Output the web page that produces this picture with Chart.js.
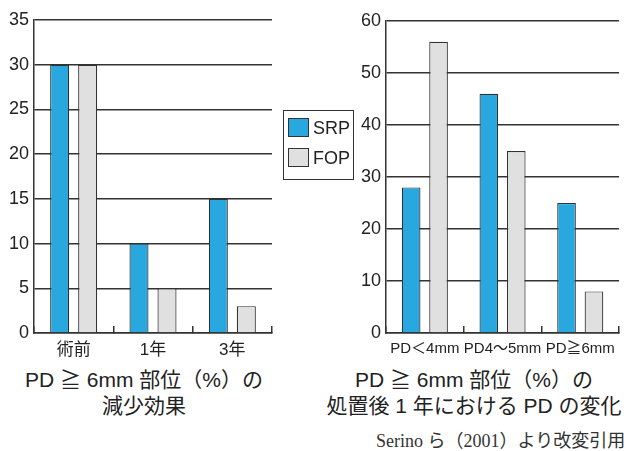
<!DOCTYPE html>
<html>
<head>
<meta charset="utf-8">
<script src="https://cdn.jsdelivr.net/npm/chart.js@4.4.1/dist/chart.umd.min.js"></script>
<style>
  html, body { margin: 0; padding: 0; background: #fff; }
  body { width: 630px; height: 451px; position: relative; overflow: hidden;
         font-family: "Liberation Sans", "Noto Sans CJK JP", sans-serif; color: #222; }
  canvas { position: absolute; top: 0; }
  #left { left: 0; }
  #right { left: 340px; }
  .title { position: absolute; text-align: center; font-size: 21px; line-height: 26px; white-space: nowrap; top: 367px; }
  #t1 { left: 0; width: 288px; }
  #t2 { left: 304px; width: 340px; }
  #legend { position: absolute; left: 283px; top: 110px; width: 69px; height: 68px; border: 1.3px solid #333; }
  .item { position: absolute; left: 4px; height: 20px; font-size: 18px; line-height: 20px; }
  .sw { position: absolute; left: 0; top: 0; width: 19px; height: 17px; border: 1.2px solid #333; }
  .item span { position: absolute; left: 25px; top: 0; }
  #src { position: absolute; left: 376px; top: 430px; font-family: "Liberation Serif", "Noto Sans CJK JP", serif;
         font-size: 18px; line-height: 22px; white-space: nowrap; color: #333; }
</style>
</head>
<body>
<canvas id="left" width="280" height="365"></canvas>
<canvas id="right" width="290" height="365"></canvas>
<div id="legend"></div>
<div class="title" id="t1">PD ≧ 6mm 部位（%）の<br>減少効果</div>
<div class="title" id="t2">PD ≧ 6mm 部位（%）の<br>処置後 1 年における PD の変化</div>
<div id="src">Serino ら（2001）より改変引用</div>
<script>
// 左: 減少効果
const leftCategories = ["術前", "1年", "3年"];
const leftSRP = [30, 10, 15];
const leftFOP = [30, 5, 3];
const leftMax = 35;
const leftStep = 5;

// 右: 処置後1年
const rightCategories = ["PD＜4mm", "PD4～5mm", "PD≧6mm"];
const rightSRP = [28, 46, 25];
const rightFOP = [56, 35, 8];
const rightMax = 60;
const rightStep = 10;

const seriesNames = ["SRP", "FOP"];
const seriesColors = ["#29a8e0", "#e0e0e0"];

const INK = "#333";

// 凡例 (HTML)
const legend = document.getElementById("legend");
seriesNames.forEach((name, i) => {
  const item = document.createElement("div");
  item.className = "item";
  item.style.top = (7 + i * 30) + "px";
  item.innerHTML = '<div class="sw" style="background:' + seriesColors[i] + '"></div><span>' + name + '</span>';
  legend.appendChild(item);
});

function makeChart(id, labels, srp, fop, yMax, yStep, opt) {
  const ctx = document.getElementById(id).getContext("2d");
  return new Chart(ctx, {
    type: "bar",
    data: {
      labels: labels,
      datasets: [srp, fop].map((d, i) => ({
        label: seriesNames[i],
        data: d,
        backgroundColor: seriesColors[i],
        borderColor: INK,
        borderWidth: 1.2,
        categoryPercentage: 0.706,
        barPercentage: 0.68,
      })),
    },
    options: {
      responsive: false,
      devicePixelRatio: 1,
      animation: false,
      layout: { padding: { top: opt.top, right: opt.right, left: 0, bottom: 0 }, autoPadding: false },
      plugins: { legend: { display: false }, tooltip: { enabled: false } },
      scales: {
        x: {
          grid: { display: true, drawOnChartArea: false, drawTicks: true, tickLength: -7, color: INK, lineWidth: 1.5 },
          border: { color: INK, width: 1.5 },
          ticks: { padding: opt.xPad, color: "#222", maxRotation: 0, minRotation: 0, autoSkip: false,
                   font: { family: opt.xFont, size: opt.xSize } },
          afterFit(s) { s.height = 32; },
        },
        y: {
          min: 0,
          max: yMax,
          ticks: { stepSize: yStep, padding: 5, color: "#222", font: { family: "Liberation Sans", size: 18 } },
          grid: { color: INK, lineWidth: 1.5, drawTicks: false },
          border: { color: INK, width: 1.5 },
          afterFit(s) { s.width = opt.yWidth; },
        },
      },
    },
  });
}

makeChart("left", leftCategories, leftSRP, leftFOP, leftMax, leftStep,
  { top: 20, right: 8, yWidth: 34, xPad: 14, xSize: 17, xFont: "'Liberation Sans', 'Noto Sans CJK JP'" });
makeChart("right", rightCategories, rightSRP, rightFOP, rightMax, rightStep,
  { top: 21, right: 7, yWidth: 46, xPad: 14, xSize: 15, xFont: "'Liberation Sans', 'Noto Sans CJK JP'" });
</script>
</body>
</html>
